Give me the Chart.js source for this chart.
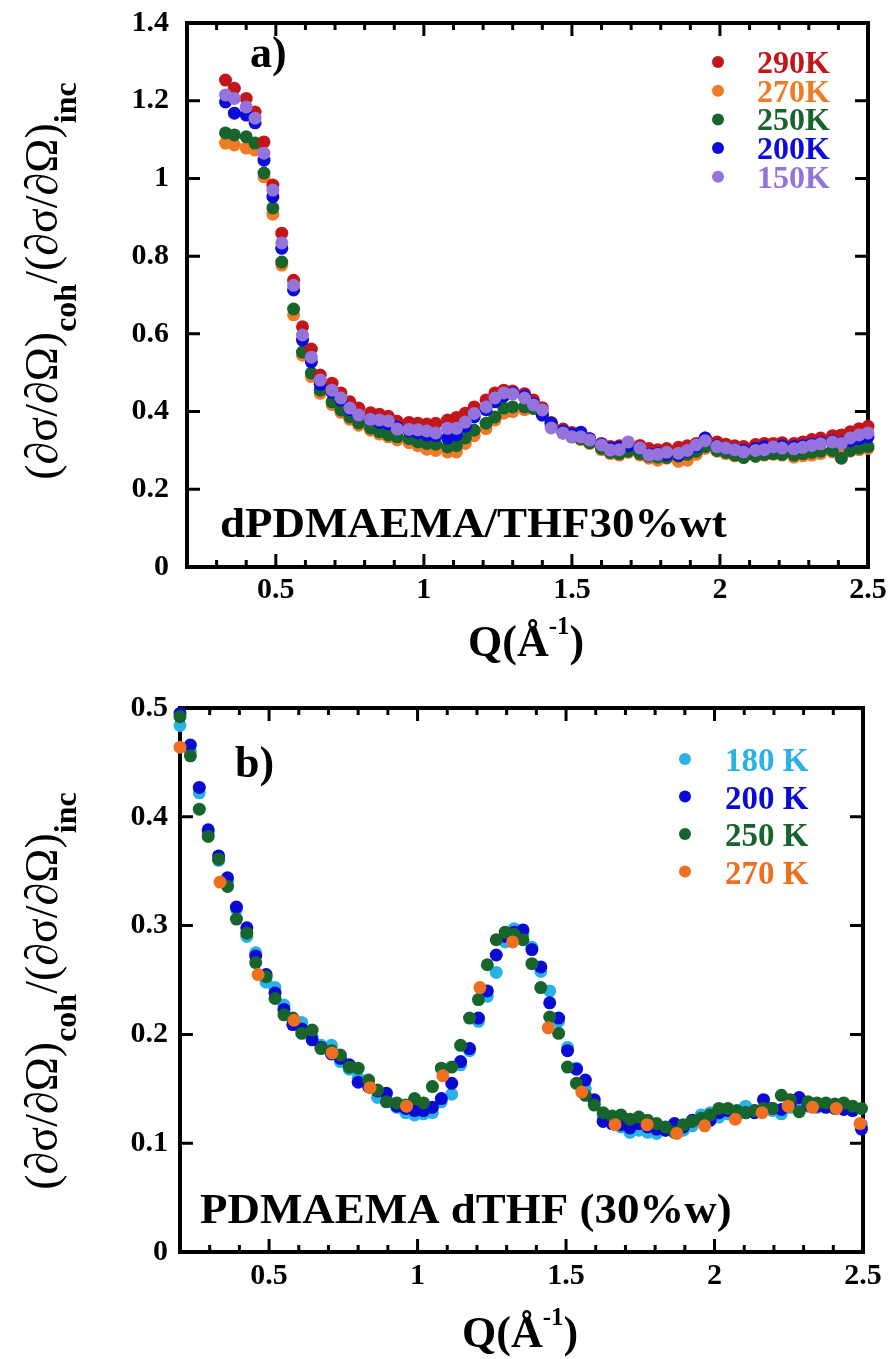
<!DOCTYPE html>
<html>
<head>
<meta charset="utf-8">
<script src="https://cdn.jsdelivr.net/npm/chart.js@4.4.1/dist/chart.umd.min.js"></script>
<style>
  html, body { margin: 0; padding: 0; background: #fff; }
  #wrap { position: relative; width: 894px; height: 1359px; }
  canvas { position: absolute; left: 0; }
  #panelA { top: 0; }
  #panelB { top: 680px; }
</style>
</head>
<body>
<div id="wrap">
  <canvas id="panelA" width="894" height="680"></canvas>
  <canvas id="panelB" width="894" height="679"></canvas>
</div>
<script>
// a) dPDMAEMA/THF 30%wt, Q in 1/Å
const qA = [0.33, 0.36, 0.40, 0.43, 0.46, 0.49, 0.52, 0.56, 0.59, 0.62,
  0.65, 0.69, 0.72, 0.75, 0.78, 0.82, 0.85, 0.88, 0.91, 0.95,
  0.98, 1.01, 1.04, 1.08, 1.11, 1.14, 1.17, 1.21, 1.24, 1.27,
  1.30, 1.34, 1.37, 1.40, 1.43, 1.47, 1.50, 1.53, 1.56, 1.60,
  1.63, 1.66, 1.69, 1.73, 1.76, 1.79, 1.82, 1.86, 1.89, 1.92,
  1.95, 1.99, 2.02, 2.05, 2.08, 2.12, 2.15, 2.18, 2.21, 2.25,
  2.28, 2.31, 2.34, 2.38, 2.41, 2.44, 2.47, 2.50];
const a290 = [1.253, 1.232, 1.206, 1.171, 1.094, 0.983, 0.859, 0.738, 0.618, 0.561,
  0.494, 0.473, 0.448, 0.425, 0.409, 0.397, 0.393, 0.388, 0.375, 0.372,
  0.370, 0.368, 0.370, 0.378, 0.385, 0.396, 0.412, 0.430, 0.448, 0.455,
  0.453, 0.446, 0.430, 0.410, 0.372, 0.355, 0.346, 0.340, 0.330, 0.318,
  0.310, 0.312, 0.320, 0.313, 0.305, 0.302, 0.305, 0.308, 0.312, 0.318,
  0.332, 0.322, 0.316, 0.312, 0.310, 0.315, 0.318, 0.318, 0.320, 0.318,
  0.322, 0.328, 0.332, 0.338, 0.340, 0.348, 0.356, 0.362];
const a270 = [1.091, 1.086, 1.078, 1.073, 1.004, 0.908, 0.777, 0.649, 0.545, 0.490,
  0.447, 0.418, 0.398, 0.380, 0.365, 0.352, 0.342, 0.335, 0.327, 0.320,
  0.312, 0.303, 0.300, 0.296, 0.296, 0.318, 0.338, 0.356, 0.378, 0.396,
  0.400, 0.405, 0.408, 0.395, 0.370, 0.345, 0.335, 0.328, 0.318, 0.302,
  0.292, 0.288, 0.295, 0.288, 0.280, 0.275, 0.280, 0.272, 0.275, 0.290,
  0.305, 0.298, 0.292, 0.286, 0.282, 0.285, 0.288, 0.290, 0.288, 0.283,
  0.286, 0.288, 0.292, 0.296, 0.295, 0.298, 0.302, 0.305];
const a250 = [1.117, 1.112, 1.107, 1.091, 1.014, 0.924, 0.785, 0.664, 0.553, 0.499,
  0.455, 0.425, 0.404, 0.386, 0.371, 0.358, 0.348, 0.340, 0.335, 0.330,
  0.322, 0.318, 0.316, 0.309, 0.312, 0.332, 0.352, 0.370, 0.386, 0.409,
  0.412, 0.412, 0.408, 0.392, 0.365, 0.345, 0.335, 0.330, 0.320, 0.305,
  0.295, 0.292, 0.298, 0.292, 0.285, 0.283, 0.282, 0.285, 0.290, 0.298,
  0.310, 0.300, 0.295, 0.288, 0.282, 0.285, 0.290, 0.292, 0.290, 0.288,
  0.292, 0.295, 0.298, 0.300, 0.280, 0.300, 0.306, 0.310];
const a200 = [1.197, 1.168, 1.163, 1.143, 1.047, 0.953, 0.820, 0.713, 0.584, 0.528,
  0.470, 0.450, 0.430, 0.405, 0.390, 0.380, 0.372, 0.368, 0.360, 0.350,
  0.345, 0.340, 0.338, 0.332, 0.340, 0.362, 0.386, 0.405, 0.425, 0.440,
  0.448, 0.440, 0.420, 0.391, 0.370, 0.350, 0.342, 0.347, 0.330, 0.316,
  0.306, 0.308, 0.312, 0.305, 0.290, 0.292, 0.290, 0.288, 0.298, 0.310,
  0.332, 0.312, 0.305, 0.303, 0.300, 0.305, 0.310, 0.308, 0.312, 0.310,
  0.312, 0.316, 0.320, 0.324, 0.320, 0.325, 0.330, 0.335];
const a150 = [1.215, 1.206, 1.184, 1.155, 1.065, 0.970, 0.834, 0.725, 0.597, 0.540,
  0.481, 0.455, 0.435, 0.409, 0.391, 0.380, 0.378, 0.376, 0.355, 0.354,
  0.353, 0.350, 0.345, 0.357, 0.357, 0.373, 0.395, 0.412, 0.435, 0.448,
  0.445, 0.435, 0.417, 0.404, 0.358, 0.345, 0.335, 0.335, 0.327, 0.314,
  0.301, 0.302, 0.322, 0.306, 0.288, 0.290, 0.295, 0.293, 0.300, 0.314,
  0.325, 0.310, 0.306, 0.302, 0.296, 0.300, 0.302, 0.309, 0.306, 0.304,
  0.308, 0.313, 0.317, 0.322, 0.318, 0.332, 0.340, 0.345];
const labelsA = ['290K', '270K', '250K', '200K', '150K'];
const colorsA = ['#c3161b', '#f07a25', '#17652c', '#0b0bdc', '#9474dc'];
const layerA = [3, 5, 4, 2, 1];

// b) PDMAEMA dTHF (30%w)
const qB = [0.200, 0.235, 0.265, 0.295, 0.330, 0.360, 0.390, 0.425, 0.455, 0.490,
  0.520, 0.550, 0.580, 0.610, 0.645, 0.675, 0.710, 0.740, 0.770, 0.800,
  0.835, 0.865, 0.895, 0.930, 0.960, 0.990, 1.020, 1.050, 1.080, 1.115,
  1.145, 1.175, 1.205, 1.235, 1.265, 1.295, 1.325, 1.355, 1.385, 1.415,
  1.445, 1.475, 1.505, 1.535, 1.565, 1.595, 1.625, 1.655, 1.685, 1.715,
  1.745, 1.775, 1.805, 1.835, 1.865, 1.895, 1.925, 1.955, 1.985, 2.015,
  2.045, 2.075, 2.105, 2.135, 2.165, 2.195, 2.225, 2.255, 2.285, 2.315,
  2.345, 2.375, 2.405, 2.435, 2.465, 2.495];
const b180 = [0.484, 0.460, 0.422, 0.385, 0.360, 0.340, 0.315, 0.290, 0.275, 0.248,
  0.243, 0.227, 0.214, 0.211, 0.198, 0.190, 0.190, 0.175, 0.168, 0.160,
  0.155, 0.142, 0.140, 0.133, 0.128, 0.126, 0.127, 0.128, 0.138, 0.145,
  0.172, 0.185, 0.212, 0.235, 0.257, 0.285, 0.297, 0.292, 0.280, 0.258,
  0.240, 0.212, 0.188, 0.169, 0.150, 0.137, 0.125, 0.118, 0.115, 0.110,
  0.112, 0.110, 0.109, 0.112, 0.115, 0.112, 0.116, 0.126, 0.128, 0.124,
  0.127, 0.128, 0.134, 0.130, 0.131, 0.130, 0.127, 0.133, 0.135, 0.134,
  0.133, 0.134, 0.134, 0.133, 0.132, 0.117];
const b200 = [0.495, 0.466, 0.427, 0.388, 0.364, 0.344, 0.317, 0.298, 0.272, 0.255,
  0.238, 0.223, 0.209, 0.205, 0.195, 0.188, 0.182, 0.178, 0.172, 0.156,
  0.152, 0.148, 0.146, 0.134, 0.132, 0.130, 0.130, 0.133, 0.141, 0.155,
  0.175, 0.187, 0.215, 0.240, 0.273, 0.290, 0.294, 0.296, 0.278, 0.262,
  0.229, 0.215, 0.185, 0.168, 0.158, 0.140, 0.120, 0.118, 0.117, 0.114,
  0.118, 0.115, 0.113, 0.112, 0.118, 0.115, 0.121, 0.122, 0.121, 0.128,
  0.130, 0.126, 0.128, 0.128, 0.140, 0.132, 0.131, 0.136, 0.142, 0.135,
  0.134, 0.133, 0.132, 0.131, 0.130, 0.113];
const b250 = [0.492, 0.456, 0.407, 0.382, 0.361, 0.336, 0.306, 0.293, 0.266, 0.253,
  0.233, 0.218, 0.215, 0.201, 0.204, 0.187, 0.185, 0.181, 0.170, 0.169,
  0.158, 0.149, 0.138, 0.137, 0.135, 0.141, 0.137, 0.152, 0.169, 0.170,
  0.190, 0.215, 0.232, 0.264, 0.287, 0.294, 0.292, 0.287, 0.265, 0.243,
  0.216, 0.201, 0.170, 0.155, 0.144, 0.135, 0.128, 0.125, 0.126, 0.122,
  0.124, 0.121, 0.118, 0.115, 0.110, 0.117, 0.120, 0.123, 0.126, 0.132,
  0.132, 0.130, 0.128, 0.130, 0.132, 0.132, 0.144, 0.140, 0.129, 0.138,
  0.137, 0.137, 0.136, 0.137, 0.134, 0.132];
const qB270 = [0.200, 0.335, 0.463, 0.584, 0.712, 0.840, 0.963, 1.085, 1.210, 1.320,
  1.440, 1.553, 1.665, 1.773, 1.873, 1.967, 2.070, 2.160, 2.248, 2.330,
  2.410, 2.490];
const b270 = [0.464, 0.340, 0.255, 0.213, 0.183, 0.151, 0.134, 0.162, 0.243, 0.285,
  0.206, 0.147, 0.117, 0.117, 0.109, 0.116, 0.122, 0.128, 0.134, 0.133,
  0.132, 0.118];
const labelsB = ['180 K', '200 K', '250 K', '270 K'];
const colorsB = ['#2ab2e6', '#0a0ad2', '#17652c', '#ee6f20'];
const layerB = [4, 3, 2, 1];

const serif = "'Liberation Serif', 'Times New Roman', serif";

function points(qs, vs) {
  return qs.map((q, i) => ({x: q, y: vs[i]}));
}

function wideText(ctx, text, x, y, font, color, sx) {
  ctx.save();
  ctx.font = font;
  ctx.fillStyle = color;
  ctx.translate(x, y);
  ctx.scale(sx, 1);
  ctx.fillText(text, 0, 0);
  ctx.restore();
}

// (∂σ/∂Ω)coh/(∂σ/∂Ω)inc, read bottom to top
function drawYTitle(ctx, bx, cy) {
  const parts = [
    {t: '(\u2202\u03c3/\u2202\u03a9)', f: '46px ' + serif, dy: 0},
    {t: 'coh', f: 'bold 32px ' + serif, dy: 19},
    {t: '/(\u2202\u03c3/\u2202\u03a9)', f: '46px ' + serif, dy: 0},
    {t: 'inc', f: 'bold 32px ' + serif, dy: 19}
  ];
  ctx.save();
  let w = 0;
  parts.forEach(p => { ctx.font = p.f; p.w = ctx.measureText(p.t).width; w += p.w; });
  ctx.translate(bx, cy);
  ctx.rotate(-Math.PI / 2);
  ctx.fillStyle = '#000';
  ctx.textBaseline = 'alphabetic';
  let x = -w / 2;
  parts.forEach(p => { ctx.font = p.f; ctx.fillText(p.t, x, p.dy); x += p.w; });
  ctx.restore();
}

// Q(Å-1)
function drawXTitle(ctx, x, y) {
  ctx.save();
  ctx.fillStyle = '#000';
  ctx.font = 'bold 44px ' + serif;
  ctx.fillText('Q(\u00c5', x, y);
  x += ctx.measureText('Q(\u00c5').width;
  ctx.font = 'bold 25px ' + serif;
  ctx.fillText('-1', x, y - 22);
  x += ctx.measureText('-1').width;
  ctx.font = 'bold 44px ' + serif;
  ctx.fillText(')', x, y);
  ctx.restore();
}

const framePlugin = {
  id: 'frame',
  beforeDatasetsDraw(chart) {
    const {ctx, chartArea: a, scales: {x, y}} = chart;
    ctx.save();
    ctx.strokeStyle = '#000';
    ctx.lineWidth = 3;
    ctx.beginPath();
    x.ticks.forEach(t => {
      const px = x.getPixelForValue(t.value);
      const len = t.label ? 13 : 7;
      ctx.moveTo(px, a.bottom); ctx.lineTo(px, a.bottom - len);
      ctx.moveTo(px, a.top); ctx.lineTo(px, a.top + len);
    });
    y.ticks.forEach(t => {
      const py = y.getPixelForValue(t.value);
      ctx.moveTo(a.left, py); ctx.lineTo(a.left + 13, py);
      ctx.moveTo(a.right, py); ctx.lineTo(a.right - 13, py);
    });
    ctx.stroke();
    ctx.lineWidth = 4;
    ctx.strokeRect(a.left, a.top, a.right - a.left, a.bottom - a.top);
    ctx.restore();
  },
  afterDraw(chart, args, opts) {
    const ctx = chart.ctx;
    ctx.save();
    ctx.textBaseline = 'alphabetic';
    drawYTitle(ctx, opts.yTitle.x, opts.yTitle.y);
    drawXTitle(ctx, opts.xTitle.x, opts.xTitle.y);
    wideText(ctx, opts.tag.text, opts.tag.x, opts.tag.y, 'bold 44px ' + serif, '#000', 1);
    wideText(ctx, opts.note.text, opts.note.x, opts.note.y, 'bold 42px ' + serif, '#000', 1.07);
    const lg = opts.legend;
    lg.labels.forEach((label, i) => {
      const cy = lg.y + i * lg.dy;
      ctx.beginPath();
      ctx.fillStyle = lg.colors[i];
      ctx.arc(lg.dotX, cy, 6, 0, Math.PI * 2);
      ctx.fill();
      wideText(ctx, label, lg.textX, cy + lg.shift, 'bold ' + lg.size + 'px ' + serif, lg.colors[i], 1);
    });
    ctx.restore();
  }
};

function tickFont() {
  return {family: serif, weight: 'bold', size: 30};
}

function makePanel(id, cfg) {
  return new Chart(document.getElementById(id), {
    type: 'scatter',
    data: {datasets: cfg.datasets},
    plugins: [framePlugin],
    options: {
      responsive: false,
      animation: false,
      events: [],
      layout: {padding: cfg.padding},
      elements: {point: {radius: 6.5, borderWidth: 0, hoverRadius: 6.5}},
      plugins: {
        legend: {display: false},
        tooltip: {enabled: false},
        frame: cfg.frame
      },
      scales: {
        x: {
          type: 'linear', min: 0.2, max: 2.5,
          grid: {display: false, drawTicks: false},
          border: {display: false},
          ticks: {
            stepSize: 0.1, autoSkip: false, maxRotation: 0, minRotation: 0,
            padding: cfg.xPad, color: '#000', font: tickFont(),
            callback: v => Math.abs(v * 2 - Math.round(v * 2)) < 1e-6 && v > 0.3 ? String(+v.toFixed(1)) : ''
          },
          afterFit: s => { s.height = cfg.xHeight; s.paddingLeft = 0; s.paddingRight = 0; }
        },
        y: {
          type: 'linear', min: 0, max: cfg.yMax,
          grid: {display: false, drawTicks: false},
          border: {display: false},
          ticks: {
            stepSize: cfg.yStep, autoSkip: false,
            padding: cfg.yPad, color: '#000', font: tickFont(),
            callback: v => String(+v.toFixed(2))
          },
          afterFit: s => { s.width = cfg.yWidth; s.paddingTop = 0; s.paddingBottom = 0; }
        }
      }
    }
  });
}

const seriesA = [a290, a270, a250, a200, a150];
makePanel('panelA', {
  datasets: seriesA.map((vals, i) => ({
    label: labelsA[i],
    data: points(qA, vals),
    backgroundColor: colorsA[i],
    order: layerA[i],
    clip: false
  })),
  padding: {left: 0, right: 26, top: 23, bottom: 0},
  xHeight: 113, yWidth: 187, xPad: 5, yPad: 18,
  yMax: 1.4, yStep: 0.2,
  frame: {
    yTitle: {x: 57, y: 281},
    xTitle: {x: 468, y: 656},
    tag: {text: 'a)', x: 250, y: 67},
    note: {text: 'dPDMAEMA/THF30%wt', x: 220, y: 537},
    legend: {labels: labelsA, colors: colorsA, dotX: 718, textX: 757, y: 62, dy: 28.7, shift: 11, size: 32}
  }
});

const seriesB = [b180, b200, b250];
const setsB = seriesB.map((vals, i) => ({
  label: labelsB[i],
  data: points(qB, vals),
  backgroundColor: colorsB[i],
  order: layerB[i],
  clip: false
}));
setsB.push({
  label: labelsB[3],
  data: points(qB270, b270),
  backgroundColor: colorsB[3],
  order: layerB[3],
  clip: false
});

makePanel('panelB', {
  datasets: setsB,
  padding: {left: 0, right: 31, top: 28, bottom: 0},
  xHeight: 107, yWidth: 180, xPad: 6, yPad: 12,
  yMax: 0.5, yStep: 0.1,
  frame: {
    yTitle: {x: 57, y: 311},
    xTitle: {x: 462, y: 667},
    tag: {text: 'b)', x: 235, y: 97},
    note: {text: 'PDMAEMA dTHF (30%w)', x: 200, y: 543},
    legend: {labels: labelsB, colors: colorsB, dotX: 685, textX: 725, y: 79, dy: 37.5, shift: 12, size: 33}
  }
});
</script>
</body>
</html>
